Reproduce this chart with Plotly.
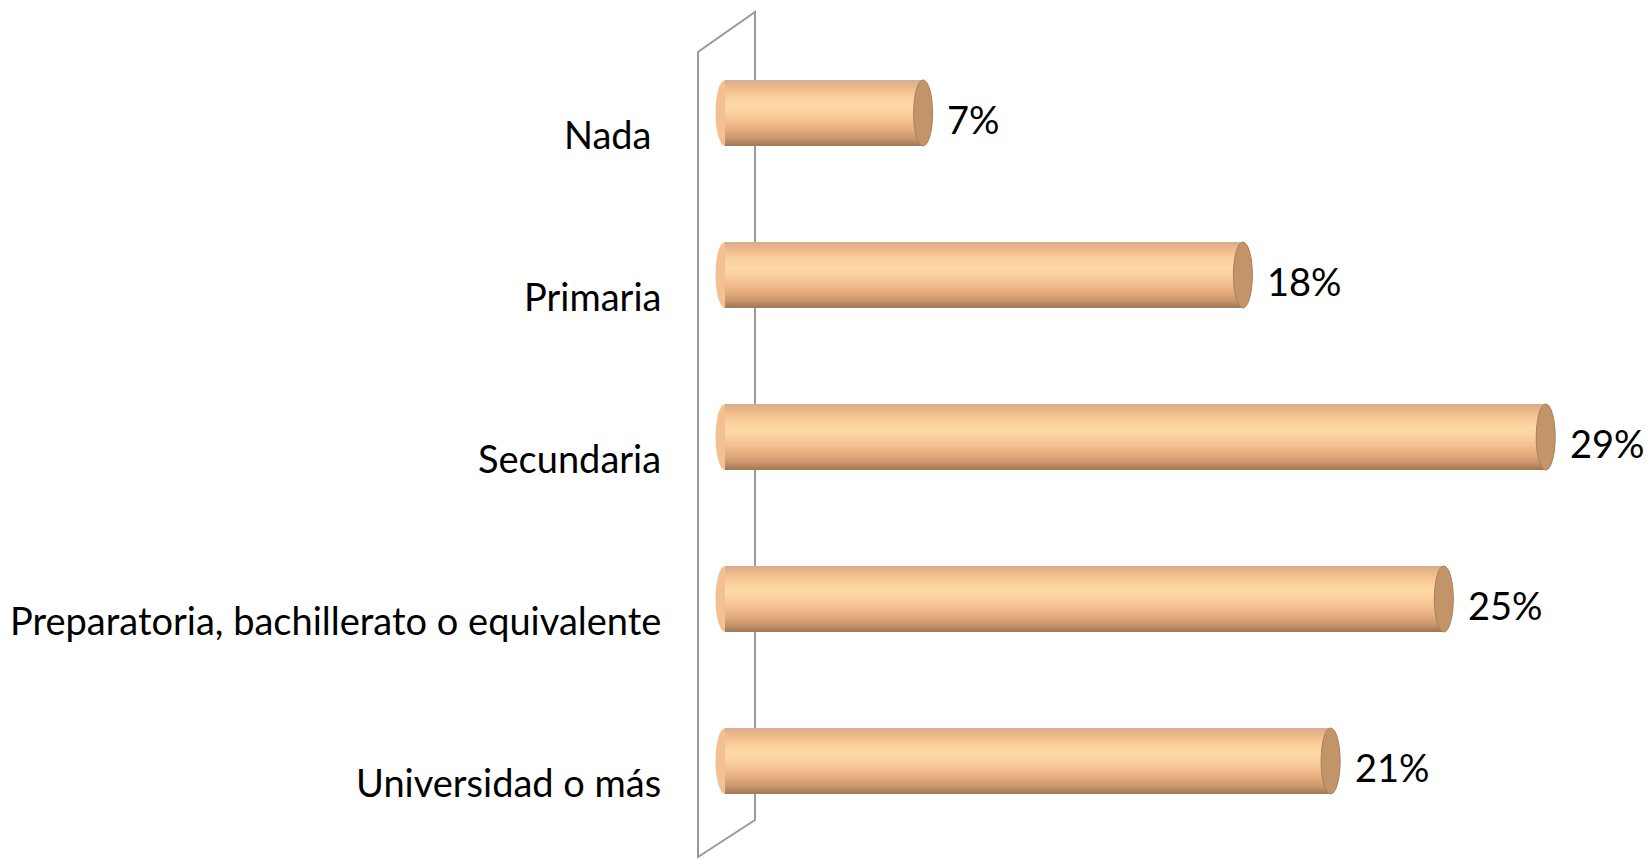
import plotly.graph_objects as go

categories = ["Nada ", "Primaria", "Secundaria", "Preparatoria, bachillerato o equivalente", "Universidad o más"]
values = [7.0, 18.3, 29.0, 25.4, 21.4]
value_labels = ["7%", "18%", "29%", "25%", "21%"]

FONT = "Lato, Carlito, Calibri, sans-serif"
W, H = 1647, 860
PLOT_L = 690
PX_PER_UNIT_X = 28.3
X0_PX = 725
PX_PER_UNIT_Y = 162
Y0_PX = 113

x_min = -(X0_PX - PLOT_L) / PX_PER_UNIT_X
x_max = x_min + (W - PLOT_L) / PX_PER_UNIT_X
y_top = -Y0_PX / PX_PER_UNIT_Y
y_bot = (H - Y0_PX) / PX_PER_UNIT_Y

bar_h = 66 / PX_PER_UNIT_Y
cap_hw = 9.5 / PX_PER_UNIT_X

# colour key points of the cylinder shading, top -> bottom
key_colors = ["#d8ae8e", "#efb989", "#f8c994", "#fcd4a1", "#fdd8a5", "#fbd19e",
              "#f5c493", "#ecb686", "#dfa77a", "#c9956b", "#a57a58"]


def hex2rgb(h):
    return tuple(int(h[i:i + 2], 16) for i in (1, 3, 5))


def shade(t):
    p = t * (len(key_colors) - 1)
    i = min(int(p), len(key_colors) - 2)
    f = p - i
    a, b = hex2rgb(key_colors[i]), hex2rgb(key_colors[i + 1])
    return "rgb(%d,%d,%d)" % tuple(round(a[j] + (b[j] - a[j]) * f) for j in range(3))


n = 34
strip_colors = [shade(k / (n - 1)) for k in range(n)]
ypos = list(range(len(categories)))

fig = go.Figure()
for k, c in enumerate(strip_colors):
    fig.add_trace(go.Bar(
        x=values, y=ypos, orientation="h", base=0,
        width=bar_h / n * 1.6 if k < n - 1 else bar_h / n,
        offset=-bar_h / 2 + k * bar_h / n,
        marker=dict(color=c, line=dict(width=0)),
        hoverinfo="skip", showlegend=False,
    ))

shapes = []
# wall (decoration)
fx = lambda px: (px - PLOT_L) / (W - PLOT_L)
fy = lambda py: 1 - py / H
shapes.append(dict(type="path", xref="paper", yref="paper", layer="below",
                   path="M %f,%f L %f,%f L %f,%f L %f,%f Z" % (
                       fx(698), fy(857), fx(698), fy(52), fx(755), fy(12), fx(755), fy(820)),
                   line=dict(color="#9a9a9a", width=2), fillcolor="rgba(0,0,0,0)"))
for i, v in enumerate(values):
    shapes.append(dict(type="circle", xref="x", yref="y", layer="below",
                       x0=-cap_hw, x1=cap_hw, y0=i - bar_h / 2, y1=i + bar_h / 2,
                       fillcolor="#f3c191", line=dict(width=0)))
    shapes.append(dict(type="circle", xref="x", yref="y", layer="above",
                       x0=v - cap_hw, x1=v + cap_hw, y0=i - bar_h / 2, y1=i + bar_h / 2,
                       fillcolor="#c29468", line=dict(color="#ab7e58", width=1)))

annotations = []
for i, (cat, v, lab) in enumerate(zip(categories, values, value_labels)):
    annotations.append(dict(x=0, xref="paper", y=i, yref="y", text=cat, showarrow=False,
                            xanchor="right", yanchor="middle", xshift=-27, yshift=-21,
                            font=dict(family=FONT, size=38, color="#000000")))
    annotations.append(dict(x=v, xref="x", y=i, yref="y", text=lab, showarrow=False,
                            xanchor="left", yanchor="middle", xshift=22, yshift=-6,
                            font=dict(family=FONT, size=38, color="#000000")))

fig.update_layout(
    width=W, height=H, barmode="overlay",
    margin=dict(l=PLOT_L, r=0, t=0, b=0, autoexpand=False),
    paper_bgcolor="white", plot_bgcolor="white",
    xaxis=dict(range=[x_min, x_max], visible=False, fixedrange=True),
    yaxis=dict(range=[y_bot, y_top], visible=False, fixedrange=True),
    shapes=shapes, annotations=annotations, showlegend=False,
)
fig.write_html("out.html", config={"displayModeBar": False},
               post_script="document.body.style.margin='0';document.body.style.overflow='hidden';")
